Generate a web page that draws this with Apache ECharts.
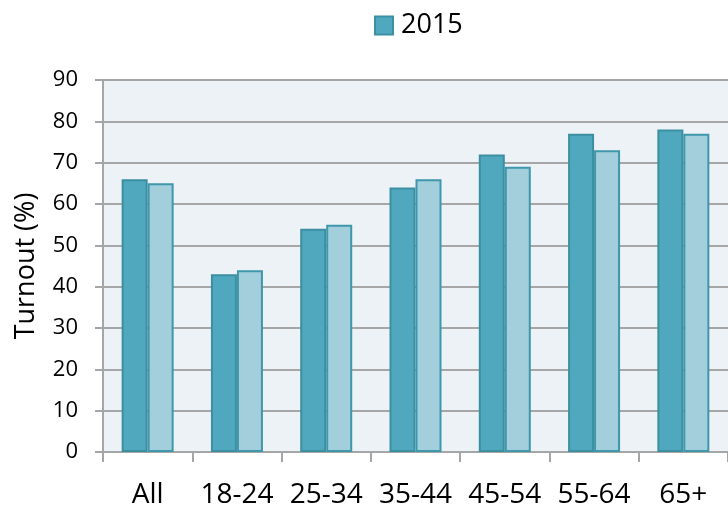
<!DOCTYPE html>
<html>
<head>
<meta charset="utf-8">
<style>
  html, body { margin: 0; padding: 0; background: #ffffff; }
  #chart { width: 728px; height: 509px; }
</style>
<script src="https://cdn.jsdelivr.net/npm/echarts@6/dist/echarts.min.js"></script>
</head>
<body>
<div id="chart"></div>
<script>
// Turnout by age group
const categories = ['All', '18-24', '25-34', '35-44', '45-54', '55-64', '65+'];
const seriesNames = ['2015', '2017'];
const turnout2015 = [66, 43, 54, 64, 72, 77, 78];
const turnout2017 = [65, 44, 55, 66, 69, 73, 77];
const yTicks = { min: 0, max: 90, interval: 10 };

const FONT = '"Open Sans", "Noto Sans", sans-serif';
const GRID_GREY = '#a6a6a6';

const chart = echarts.init(document.getElementById('chart'), null, { renderer: 'canvas' });

chart.setOption({
  animation: false,
  backgroundColor: '#ffffff',
  textStyle: { fontFamily: FONT, color: '#000000' },
  legend: {
    data: [seriesNames[0]],
    left: 369,
    top: 7,
    itemWidth: 18,
    itemHeight: 18,
    icon: 'rect',
    textStyle: { fontFamily: FONT, fontSize: 27, color: '#000000', padding: [2, 0, 0, 3] }
  },
  grid: {
    left: 103,
    top: 80,
    width: 633,
    bottom: 57,
    show: true,
    backgroundColor: '#edf2f6',
    borderWidth: 0,
    containLabel: false
  },
  xAxis: {
    type: 'category',
    data: categories,
    axisLine: { show: true, lineStyle: { color: GRID_GREY, width: 2 } },
    axisTick: { show: true, length: 10, alignWithLabel: false, lineStyle: { color: GRID_GREY, width: 2 } },
    axisLabel: { fontFamily: FONT, fontSize: 28, color: '#000000', margin: 29, interval: 0 },
    splitLine: { show: false }
  },
  yAxis: {
    type: 'value',
    min: yTicks.min,
    max: yTicks.max,
    interval: yTicks.interval,
    name: 'Turnout (%)',
    nameLocation: 'middle',
    nameGap: 63,
    nameTextStyle: { fontFamily: FONT, fontSize: 27, color: '#000000' },
    axisLine: { show: true, lineStyle: { color: GRID_GREY, width: 2 } },
    axisTick: { show: true, inside: false, length: 8, lineStyle: { color: GRID_GREY, width: 2 } },
    axisLabel: { fontFamily: FONT, fontSize: 22, color: '#000000', margin: 25 },
    splitLine: { show: true, lineStyle: { color: GRID_GREY, width: 2 } }
  },
  series: [
    {
      name: seriesNames[0],
      type: 'bar',
      data: turnout2015,
      barWidth: 26,
      barGap: '0%',
      itemStyle: { color: '#50a8bf', borderColor: '#3c8fa1', borderWidth: 2 }
    },
    {
      name: seriesNames[1],
      type: 'bar',
      data: turnout2017,
      barWidth: 26,
      barGap: '0%',
      itemStyle: { color: '#a3cfdd', borderColor: '#3e97aa', borderWidth: 2 }
    }
  ]
});
</script>
</body>
</html>
